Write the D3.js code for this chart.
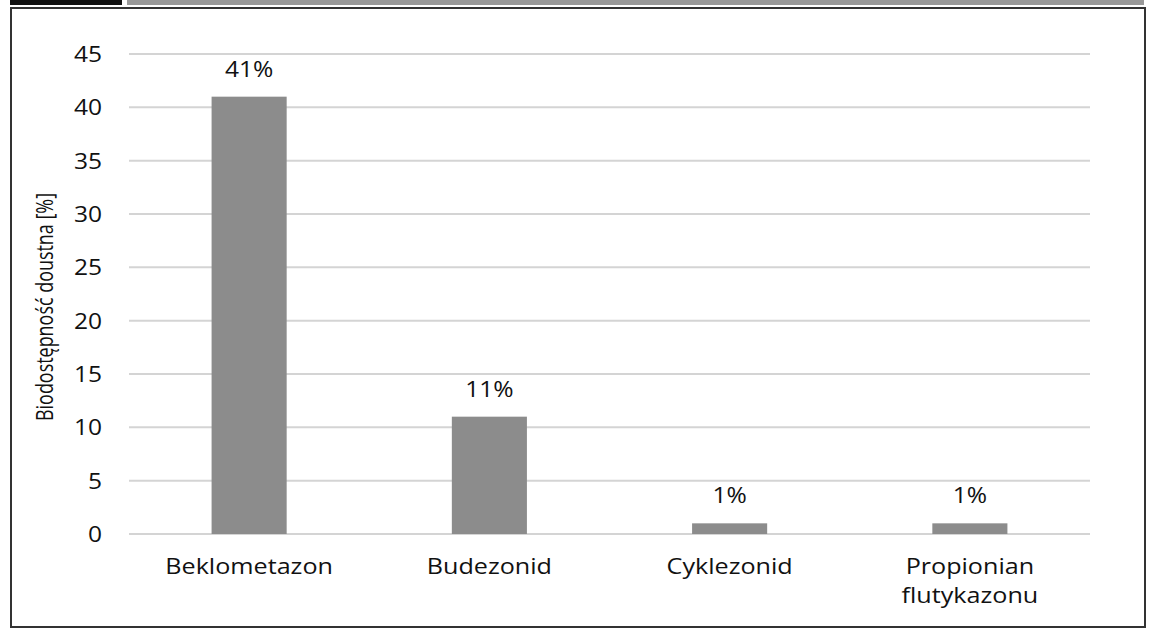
<!DOCTYPE html>
<html><head><meta charset="utf-8">
<script src="https://cdn.jsdelivr.net/npm/d3@7"></script>
<style>body{margin:0;background:#fff}svg{display:block}</style>
</head><body>
<svg id="c" width="1150" height="629"></svg>
<script>
const categories = ["Beklometazon", "Budezonid", "Cyklezonid", "Propionian flutykazonu"];
const values = [41, 11, 1, 1];
const valueLabels = ["41%", "11%", "1%", "1%"];
const yTicks = [0, 5, 10, 15, 20, 25, 30, 35, 40, 45];
const yTitle = "Biodostępność doustna [%]";

(function(){
const svg = d3.select("#c");
const font = "'Open Sans', sans-serif";
const SX = 1.17;

// header decoration
svg.append("rect").attr("x",10).attr("y",0).attr("width",112).attr("height",5).attr("fill","#111");
svg.append("rect").attr("x",127).attr("y",0).attr("width",1017).attr("height",5).attr("fill","#999");
// frame
svg.append("rect").attr("x",11).attr("y",8).attr("width",1134).attr("height",619)
  .attr("fill","none").attr("stroke","#333").attr("stroke-width",2);

const pL = 129, pR = 1090, pT = 54, pB = 534;
const x = d3.scaleBand().domain(categories).range([pL, pR]).paddingInner(0.6875).paddingOuter(0.34375);
const y = d3.scaleLinear().domain([0, 45]).range([pB, pT]);

// gridlines
svg.append("g").selectAll("line").data(yTicks).join("line")
  .attr("x1", pL).attr("x2", pR)
  .attr("y1", d => y(d)).attr("y2", d => y(d))
  .attr("stroke", "#d4d4d4").attr("stroke-width", 2);

// y axis labels
const yAxis = d3.axisLeft(y).tickValues(yTicks).tickSize(0).tickPadding(0);
const ya = svg.append("g").attr("transform", `translate(102,0)`).call(yAxis);
ya.select(".domain").remove();
ya.selectAll("text").attr("font-family", font).attr("font-size", 21).attr("fill", "#111")
  .attr("dy","0.36em").attr("x", null).attr("transform", `scale(${SX},1)`);

// bars
svg.append("g").selectAll("rect").data(values).join("rect")
  .attr("x", (d,i) => x(categories[i])).attr("width", x.bandwidth())
  .attr("y", d => y(d)).attr("height", d => y(0) - y(d))
  .attr("fill", "#8c8c8c");

// value labels
svg.append("g").selectAll("g").data(values).join("g")
  .attr("transform", (d,i) => `translate(${x(categories[i]) + x.bandwidth()/2},${y(d) - 20}) scale(${SX},1)`)
  .append("text")
  .attr("text-anchor", "middle").attr("font-family", font).attr("font-size", 21).attr("fill", "#111")
  .text((d,i) => valueLabels[i]);

// category labels
const xa = svg.append("g").attr("transform", `translate(0,${pB})`).call(d3.axisBottom(x).tickSize(0).tickPadding(0));
xa.select(".domain").remove();
xa.selectAll(".tick text").each(function(d){
  const t = d3.select(this);
  t.text(null).attr("y", 0).attr("dy", null).attr("font-family", font).attr("font-size", 21.5).attr("fill", "#111")
   .attr("transform", `scale(${SX},1)`);
  const words = d === "Propionian flutykazonu" ? ["Propionian", "flutykazonu"] : [d];
  words.forEach((w, i) => t.append("tspan").attr("x", 0).attr("y", 40 + i*29).text(w));
});

// y title
svg.append("g").attr("transform", `translate(53,307) rotate(-90) scale(0.78,1)`)
  .append("text")
  .attr("text-anchor","middle").attr("font-family", font)
  .attr("font-size", 23).attr("fill", "#111").text(yTitle);
})();
</script>
</body></html>
